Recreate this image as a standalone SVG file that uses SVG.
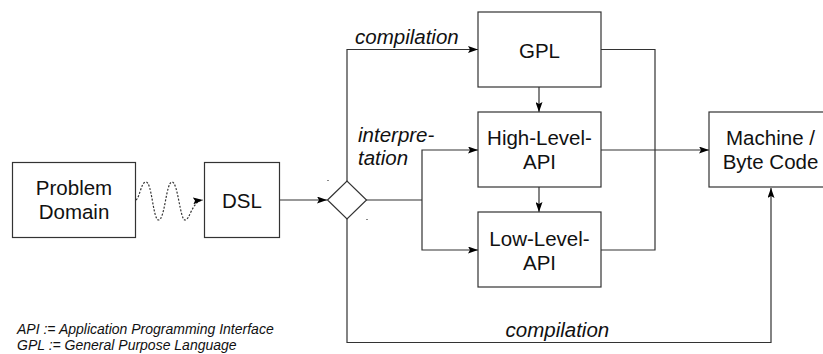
<svg xmlns="http://www.w3.org/2000/svg" width="823" height="354" viewBox="0 0 823 354">
<style>
.box{fill:#fff;stroke:#333;stroke-width:1.2}
.lbl{font-family:"Liberation Sans",Arial,sans-serif;font-size:20.5px;fill:#111;text-anchor:middle}
.it{font-family:"Liberation Sans",Arial,sans-serif;font-style:italic;font-size:20.5px;fill:#111}
.leg{font-family:"Liberation Sans",Arial,sans-serif;font-style:italic;font-size:14px;fill:#111}
.c{fill:none;stroke:#333;stroke-width:1.2}
</style>
<defs>
<marker id="ah" viewBox="0 0 10 7" refX="10" refY="3.5" markerWidth="10" markerHeight="7" orient="auto" markerUnits="userSpaceOnUse">
<path d="M0,0 L10,3.5 L0,7 L2,3.5 z" fill="#000"/>
</marker>
</defs>
<rect width="823" height="354" fill="#fff"/>
<g id="connectors">
<path class="c" d="M136,200 C140,197 141,182 146,182 C152,182 153,220 158.5,220 C165,220 166,182 172,182 C178,182 180,220 185,220 C190,220 192,201 203,200" stroke-dasharray="2,1.6" marker-end="url(#ah)"/>
<path class="c" d="M279,200 H327" marker-end="url(#ah)"/>
<path class="c" d="M347,181 V49.5 H478" marker-end="url(#ah)"/>
<path class="c" d="M366,200 H422"/>
<path class="c" d="M422,200 V150 H478" marker-end="url(#ah)"/>
<path class="c" d="M422,200 V250 H478" marker-end="url(#ah)"/>
<path class="c" d="M347,219 V342.5 H771 V188" marker-end="url(#ah)"/>
<path class="c" d="M539,87 V112" marker-end="url(#ah)"/>
<path class="c" d="M539,187 V212" marker-end="url(#ah)"/>
<path class="c" d="M601,49.5 H655 V250 H601"/>
<path class="c" d="M601,150 H709" marker-end="url(#ah)"/>
<line x1="327" y1="180.5" x2="329" y2="180.5" stroke="#888" stroke-width="1"/>
<line x1="366" y1="219.5" x2="368" y2="219.5" stroke="#888" stroke-width="1"/>
</g>
<g id="problem-domain">
<rect class="box" x="12.5" y="162.5" width="123" height="75"/>
<text class="lbl" x="74" y="195">Problem</text>
<text class="lbl" x="74" y="219.3">Domain</text>
</g>
<g id="dsl">
<rect class="box" x="204.5" y="162.5" width="75" height="75"/>
<text class="lbl" x="242" y="208">DSL</text>
</g>
<g id="decision">
<path d="M327.5,200 L347,181 L366.5,200 L347,219 Z" fill="#fff" stroke="#333" stroke-width="1.2"/>
</g>
<g id="gpl">
<rect class="box" x="478" y="12" width="123" height="75"/>
<text class="lbl" x="539.5" y="57.5">GPL</text>
</g>
<g id="high-level-api">
<rect class="box" x="478" y="112" width="123" height="75"/>
<text class="lbl" x="539.5" y="145">High-Level-</text>
<text class="lbl" x="539.5" y="169.3">API</text>
</g>
<g id="low-level-api">
<rect class="box" x="478" y="212" width="123" height="75"/>
<text class="lbl" x="539.5" y="245.5">Low-Level-</text>
<text class="lbl" x="539.5" y="269.8">API</text>
</g>
<g id="machine">
<rect class="box" x="709" y="112" width="123" height="75"/>
<text class="lbl" x="770.5" y="145">Machine /</text>
<text class="lbl" x="770.5" y="169.3">Byte Code</text>
</g>
<g id="labels">
<text class="it" x="355" y="43.5">compilation</text>
<text class="it" x="358" y="141.5">interpre-</text>
<text class="it" x="358" y="165">tation</text>
<text class="it" x="505.5" y="336.5">compilation</text>
<text class="leg" x="17" y="333.5">API := Application Programming Interface</text>
<text class="leg" x="17" y="350">GPL := General Purpose Language</text>
</g>
</svg>
